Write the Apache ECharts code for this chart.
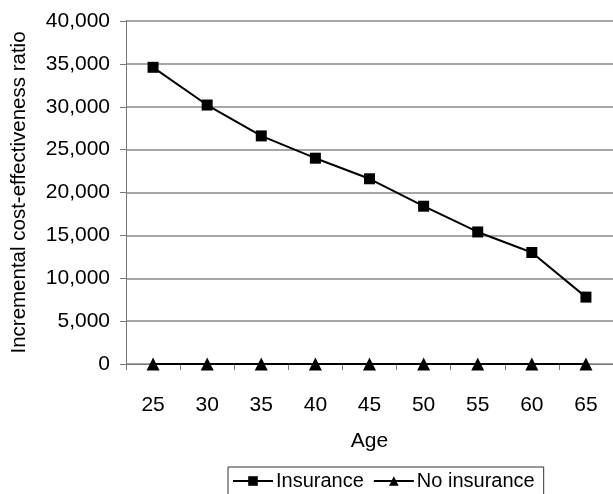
<!DOCTYPE html>
<html><head><meta charset="utf-8">
<script src="https://cdn.jsdelivr.net/npm/echarts@6/dist/echarts.min.js"></script>
<style>html,body{margin:0;padding:0;background:#fff}#c{width:613px;height:494px}</style>
</head><body><div id="c"></div>
<script>
const ages = ['25','30','35','40','45','50','55','60','65'];
const insurance = [34600, 30200, 26600, 24000, 21600, 18400, 15400, 13000, 7800];
const noInsurance = [0, 0, 0, 0, 0, 0, 0, 0, 0];
const yTicks = {min: 0, max: 40000, interval: 5000};

const chart = echarts.init(document.getElementById('c'));
const font = 'Liberation Sans, Arial, sans-serif';
chart.setOption({
  animation: false,
  grid: {left: 126, top: 21, right: -2, bottom: 130, containLabel: false},
  xAxis: {
    type: 'category', data: ages, boundaryGap: true,
    name: 'Age', nameLocation: 'middle', nameGap: 67,
    nameTextStyle: {color: '#000', fontSize: 21, fontFamily: font},
    axisLine: {lineStyle: {color: '#777', width: 1}},
    axisTick: {show: true, length: 6, inside: false, alignWithLabel: false, lineStyle: {color: '#777'}},
    axisLabel: {color: '#000', fontSize: 21, fontFamily: font, margin: 31}
  },
  yAxis: {
    type: 'value', min: yTicks.min, max: yTicks.max, interval: yTicks.interval,
    name: 'Incremental cost-effectiveness ratio', nameLocation: 'middle', nameGap: 96,
    nameTextStyle: {color: '#000', fontSize: 20.5, fontFamily: font},
    axisLine: {show: true, lineStyle: {color: '#777', width: 1}},
    axisTick: {show: true, length: 6, lineStyle: {color: '#777'}},
    axisLabel: {color: '#000', fontSize: 21, fontFamily: font, margin: 16,
      formatter: v => v.toLocaleString('en-US')},
    splitLine: {show: true, lineStyle: {color: '#888', width: 1.5}}
  },
  legend: {
    top: 467, left: 228,
    data: ['Insurance', 'No insurance'],
    borderColor: '#333', borderWidth: 1, borderRadius: 0,
    padding: [4, 9, 5, 4], itemGap: 9, itemWidth: 40, itemHeight: 12,
    textStyle: {color: '#000', fontSize: 20, fontFamily: font, padding: [0, 0, 0, -2]}
  },
  series: [
    {name: 'Insurance', type: 'line', data: insurance,
     symbol: 'rect', symbolSize: 11, color: '#000',
     lineStyle: {color: '#000', width: 2}, itemStyle: {color: '#000'}},
    {name: 'No insurance', type: 'line', data: noInsurance,
     symbol: 'triangle', symbolSize: 13, color: '#000',
     lineStyle: {color: '#000', width: 2}, itemStyle: {color: '#000'}}
  ]
});
</script></body></html>
